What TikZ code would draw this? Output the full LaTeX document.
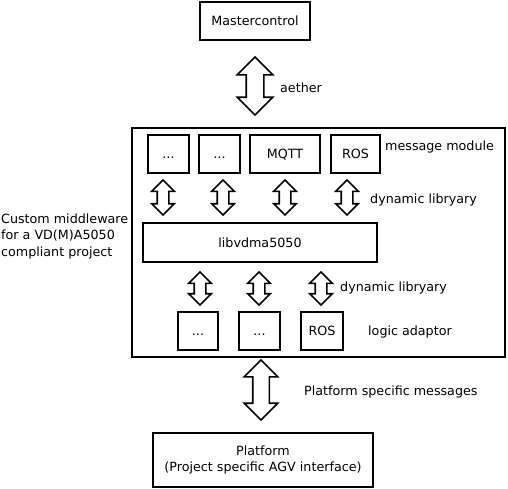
\documentclass[tikz,border=0pt]{standalone}
\usepackage{fontspec}
\setmainfont{DejaVu Sans}
\usetikzlibrary{positioning,shapes.arrows}

\begin{document}
\begin{tikzpicture}[x=1pt,y=-1pt,font=\fontsize{12.7}{16.5}\selectfont]
	\useasboundingbox (0,0) rectangle (508,488);
	\tikzset{frame/.style={draw,line width=1.7pt,inner sep=0pt}}
	\tikzset{box/.style={frame,minimum height=38pt,text height=1.75ex,text depth=.1ex}}
	\tikzset{fat/.style={double arrow,draw,line width=1.6pt,shape border rotate=90,inner sep=5pt,minimum width=21pt,double arrow head extend=5.5pt,minimum height=35pt}}
	\tikzset{lbl/.style={anchor=west,inner sep=0pt}}
	% top
	\node[box,minimum width=110pt] (master) at (255,21) {Mastercontrol};
	\node[fat,inner sep=8pt,minimum width=34pt,double arrow head extend=9pt,minimum height=58pt] (aether) at (255,86) {};
	\node[lbl] (aetherlbl) at (280,88) {aether};
	% middleware
	\node[frame,minimum width=373pt,minimum height=229pt] (mw) at (318.5,242.5) {};
	\node[lbl,align=left] (mwlbl) at (1,236) {Custom middleware\\for a VD(M)A5050\\compliant project};
	\node[box,minimum width=41pt] (m1) at (168.5,154) {...};
	\node[box,minimum width=41pt] (m2) at (219.5,154) {...};
	\node[box,minimum width=70pt] (mqtt) at (285,154) {MQTT};
	\node[box,minimum width=49pt] (mros) at (355.5,154) {ROS};
	\node[lbl] (msglbl) at (385,147) {message module};
	\node[fat] (a1) at (163,197.5) {};
	\node[fat] (a2) at (223,197.5) {};
	\node[fat] (a3) at (285,197.5) {};
	\node[fat] (a4) at (347,197.5) {};
	\node[lbl] (dyn1) at (370,200) {dynamic libryary};
	\node[box,minimum width=234pt,minimum height=39pt] (lib) at (260,242.5) {libvdma5050};
	\node[fat,minimum height=33pt] (b1) at (200,288.5) {};
	\node[fat,minimum height=33pt] (b2) at (259,288.5) {};
	\node[fat,minimum height=33pt] (b3) at (321,288.5) {};
	\node[lbl] (dyn2) at (340,288) {dynamic libryary};
	\node[box,minimum width=40pt] (l1) at (198,331) {...};
	\node[box,minimum width=41pt] (l2) at (259.5,331) {...};
	\node[box,minimum width=42pt] (lros) at (322,331) {ROS};
	\node[lbl] (logiclbl) at (368,332) {logic adaptor};
	% platform
	\node[fat,inner sep=7.5pt,minimum width=32pt,double arrow head extend=8.5pt,minimum height=60pt] (plat) at (261,390) {};
	\node[lbl] (platlbl) at (304,392) {Platform specific messages};
	\node[frame,minimum width=220pt,minimum height=54pt,align=center] (platform) at (263,460) {Platform\\(Project specific AGV interface)};
\end{tikzpicture}
\end{document}
